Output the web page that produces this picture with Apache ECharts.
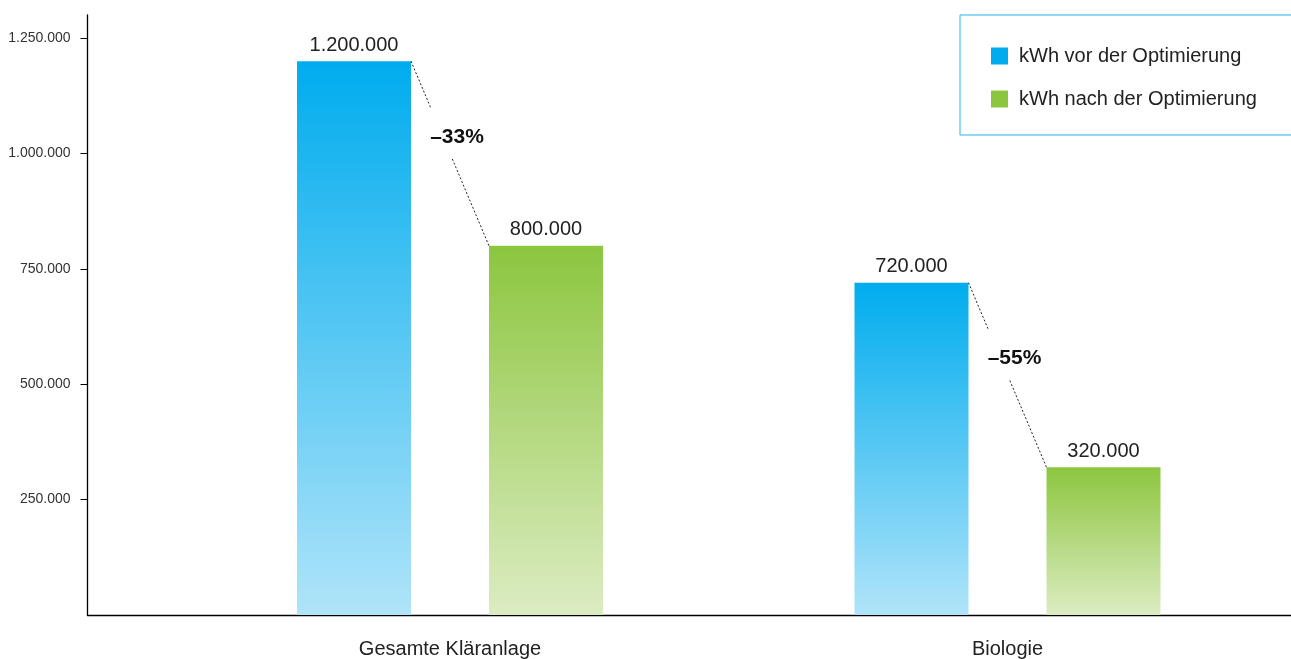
<!DOCTYPE html>
<html>
<head>
<meta charset="utf-8">
<style>
  html, body { margin: 0; padding: 0; background: #fff; }
  #chart { width: 1291px; height: 659px; }
</style>
<script src="https://cdn.jsdelivr.net/npm/echarts@6/dist/echarts.min.js"></script>
</head>
<body>
<div id="chart"></div>
<script>
// ---- data ----
const categories = ['Gesamte Kläranlage', 'Biologie'];
const seriesNames = ['kWh vor der Optimierung', 'kWh nach der Optimierung'];
const valuesBefore = [1200000, 720000];
const valuesAfter = [800000, 320000];
const reductionLabels = ['–33%', '–55%'];
const yTickValues = [250000, 500000, 750000, 1000000, 1250000];

// ---- style ----
const FONT = 'Liberation Sans';
const BAR_W = 114;
const BAR_GAP = 78;
const blueGrad = new echarts.graphic.LinearGradient(0, 0, 0, 1, [
  { offset: 0, color: '#00acee' },
  { offset: 1, color: '#b0e4f9' }
]);
const greenGrad = new echarts.graphic.LinearGradient(0, 0, 0, 1, [
  { offset: 0, color: '#8cc63f' },
  { offset: 1, color: '#dcecc2' }
]);

function fmt(v) {
  return String(v).replace(/\B(?=(\d{3})+(?!\d))/g, '.');
}

const chart = echarts.init(document.getElementById('chart'));

const connectorData = categories.map((c, i) => [i, valuesBefore[i], valuesAfter[i], i]);

const option = {
  animation: false,
  backgroundColor: '#fff',
  textStyle: { fontFamily: FONT },
  grid: [
    { left: 171.25, right: 4.75, top: 15, bottom: 44 },
    { left: 87.5, right: 0, top: 15, bottom: 44 }
  ],
  legend: {
    data: [
      { name: seriesNames[0], itemStyle: { color: '#00acee' } },
      { name: seriesNames[1], itemStyle: { color: '#8cc63f' } }
    ],
    orient: 'vertical',
    left: 960,
    top: 15,
    padding: [31, 60, 26, 31],
    itemGap: 23,
    itemWidth: 17,
    itemHeight: 17,
    icon: 'rect',
    borderColor: '#29b5ea',
    borderWidth: 1,
    textStyle: { fontFamily: FONT, fontSize: 20, color: '#222', lineHeight: 20, padding: [0, 0, 0, 6] },
    selectedMode: false
  },
  xAxis: [
    {
      type: 'category',
      gridIndex: 0,
      data: categories,
      axisLine: { show: false },
      axisTick: { show: false },
      axisLabel: { fontFamily: FONT, fontSize: 20, color: '#222', margin: 24 }
    },
    {
      type: 'value',
      gridIndex: 1,
      min: 0, max: 1,
      axisLine: { show: true, lineStyle: { color: '#000', width: 1.3 } },
      axisTick: { show: false },
      axisLabel: { show: false },
      splitLine: { show: false }
    }
  ],
  yAxis: [
    {
      type: 'value',
      gridIndex: 0,
      min: 0,
      max: 1300000,
      offset: 83.75,
      axisLine: { show: true, lineStyle: { color: '#000', width: 1.3 } },
      axisTick: { show: true, length: 7, customValues: yTickValues, lineStyle: { color: '#000' } },
      axisLabel: {
        customValues: yTickValues,
        formatter: v => fmt(v),
        fontFamily: FONT, fontSize: 14, color: '#333', margin: 17
      },
      splitLine: { show: false }
    },
    { type: 'value', gridIndex: 1, show: false, min: 0, max: 1 }
  ],
  series: [
    {
      name: seriesNames[0],
      type: 'bar',
      barWidth: BAR_W,
      barGap: (BAR_GAP / BAR_W * 100) + '%',
      data: valuesBefore,
      itemStyle: { color: blueGrad },
      label: {
        show: true, position: 'top', distance: 6,
        formatter: p => fmt(p.value),
        fontFamily: FONT, fontSize: 20, color: '#222'
      }
    },
    {
      name: seriesNames[1],
      type: 'bar',
      barWidth: BAR_W,
      data: valuesAfter,
      itemStyle: { color: greenGrad },
      label: {
        show: true, position: 'top', distance: 6,
        formatter: p => fmt(p.value),
        fontFamily: FONT, fontSize: 20, color: '#222'
      }
    },
    {
      type: 'custom',
      z: 5,
      silent: true,
      data: connectorData,
      renderItem: function (params, api) {
        const idx = api.value(0);
        const a = api.coord([idx, api.value(1)]);
        const b = api.coord([idx, api.value(2)]);
        const x1 = a[0] - BAR_GAP / 2;
        const x2 = a[0] + BAR_GAP / 2;
        const pt = t => [x1 + (x2 - x1) * t, a[1] + (b[1] - a[1]) * t];
        const s0 = pt(0), s1 = pt(0.255), s2 = pt(0.53), s3 = pt(1);
        const lc = pt(0.41);
        const ls = { stroke: '#222', lineWidth: 1, lineDash: [2, 2] };
        return {
          type: 'group',
          children: [
            { type: 'line', shape: { x1: s0[0], y1: s0[1], x2: s1[0], y2: s1[1] }, style: ls },
            { type: 'line', shape: { x1: s2[0], y1: s2[1], x2: s3[0], y2: s3[1] }, style: ls },
            {
              type: 'text',
              style: {
                text: reductionLabels[api.value(3)],
                x: lc[0] + 14, y: lc[1],
                align: 'center', verticalAlign: 'middle',
                font: 'bold 21px "' + FONT + '"',
                fill: '#111'
              }
            }
          ]
        };
      }
    }
  ]
};

chart.setOption(option);
</script>
</body>
</html>
